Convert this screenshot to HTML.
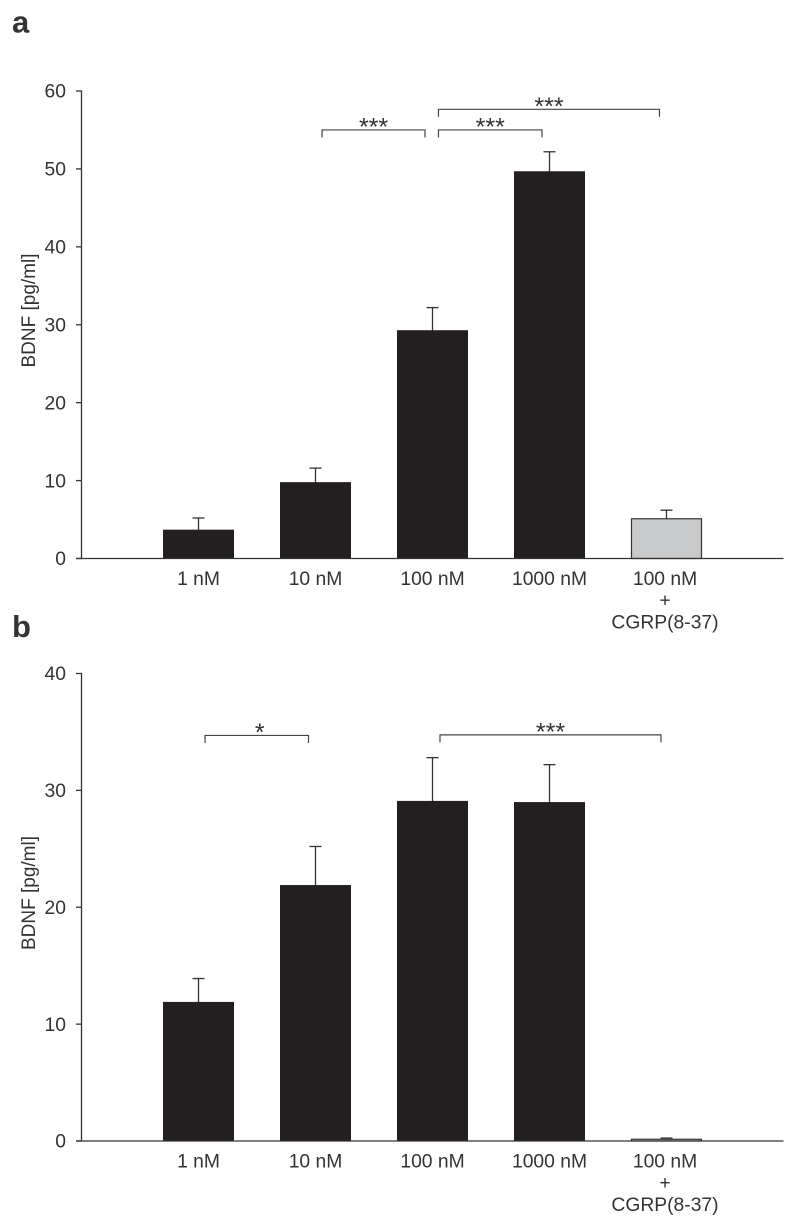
<!DOCTYPE html>
<html lang="en">
<head>
<meta charset="utf-8">
<title>BDNF release bar charts</title>
<style>
html,body{margin:0;padding:0;background:#fff;}
#stage{display:block;width:800px;height:1226px;}
text{font-family:"Liberation Sans",Arial,sans-serif;fill:#333;}
</style>
</head>
<body>
<svg id="stage" xmlns="http://www.w3.org/2000/svg" width="800" height="1226" viewBox="0 0 800 1226">
  <rect width="800" height="1226" fill="#fff"/>
  <g id="chart"></g>
</svg>
<script>
const categories = ['1 nM', '10 nM', '100 nM', '1000 nM', '100 nM'];
const lastCategoryExtra = ['+', 'CGRP(8-37)'];

const panelATicks = [0, 10, 20, 30, 40, 50, 60];
const panelAValues = [3.7, 9.8, 29.3, 49.7, 5.1];
const panelAErrorTops = [5.2, 11.6, 32.2, 52.2, 6.2];
const panelABracketFrom = [2.056, 3.051, 3.051];
const panelABracketTo = [2.936, 3.936, 4.94];
const panelABracketLevel = [55.0, 55.0, 57.65];
const panelABracketLabel = ['***', '***', '***'];

const panelBTicks = [0, 10, 20, 30, 40];
const panelBValues = [11.9, 21.9, 29.1, 29.0, 0.15];
const panelBErrorTops = [13.9, 25.2, 32.8, 32.2, 0.25];
const panelBBracketFrom = [1.056, 3.064];
const panelBBracketTo = [1.94, 4.953];
const panelBBracketLevel = [34.7, 34.75];
const panelBBracketLabel = ['*', '***'];

const NS = 'http://www.w3.org/2000/svg';
const root = document.getElementById('chart');
const INK = '#333333';
const BAR = '#231f20';
const GREY = '#c8c9cb';
const LABEL_SIZE = 19.3;

function mk(tag, parent, attrs) {
  const el = document.createElementNS(NS, tag);
  for (const k in attrs) el.setAttribute(k, attrs[k]);
  parent.appendChild(el);
  return el;
}
function line(parent, x1, y1, x2, y2, w, color) {
  return mk('line', parent, {x1: x1, y1: y1, x2: x2, y2: y2, stroke: color || INK, 'stroke-width': w});
}

function drawPanel(cfg) {
  const g = mk('g', root, {});
  
  

  const x0 = 81.5, slot = 117, barW = 71;
  const xScale = function (p) { return x0 + p * slot; };
  const yScale = function (v) { return cfg.yBase - v * (cfg.yBase - cfg.yTop) / cfg.yMax; };

  const letter = mk('text', g, {x: 12, y: cfg.letterY, 'font-size': 31, 'font-weight': 'bold', fill: '#231f20'});
  letter.textContent = cfg.id;
  
  

  const title = mk('text', g, {
    'font-size': 19, 'text-anchor': 'middle',
    transform: 'translate(35 ' + (cfg.yBase - 248) + ') rotate(-90)'
  });
  title.textContent = 'BDNF [pg/ml]';
  
  

  cfg.values.forEach(function (v, i) {
    const cx = xScale(i + 1);
    const yv = yScale(v);
    const yErr = yScale(cfg.errors[i]);
    const grey = i === 4;

    const stem = line(g, cx, yv + 1, cx, yErr, 1.3);
    
    
    const cap = line(g, cx - 6, yErr, cx + 6, yErr, 1.3);
    
    

    const bar = mk('rect', g, {
      x: cx - barW / 2 + (grey ? 0.5 : 0), y: yv,
      width: grey ? barW - 1 : barW, height: cfg.yBase - yv,
      fill: grey ? GREY : BAR
    });
    if (grey) { bar.setAttribute('stroke', INK); bar.setAttribute('stroke-width', 1.2); }
    
    

    const labelX = grey ? cx - 1.5 : cx;
    const lab = mk('text', g, {x: labelX, y: cfg.yBase + 26.5, 'font-size': LABEL_SIZE, 'text-anchor': 'middle'});
    lab.textContent = categories[i];
    
    
    if (grey) {
      lastCategoryExtra.forEach(function (t, k) {
        const ex = mk('text', g, {x: labelX, y: cfg.yBase + 48 + k * 21.8, 'font-size': LABEL_SIZE, 'text-anchor': 'middle'});
        ex.textContent = t;
        
        
      });
    }
  });

  const yAxis = line(g, x0, yScale(cfg.yMax) - 0.6, x0, cfg.yBase + 0.6, 1.3);
  
  
  const xAxis = line(g, 76, cfg.yBase, xScale(6), cfg.yBase, 1.3);
  
  

  cfg.ticks.forEach(function (t) {
    const y = yScale(t);
    const tick = line(g, 76, y, x0, y, 1.3);
    
    
    const tl = mk('text', g, {x: 66, y: y + 6.7, 'font-size': LABEL_SIZE, 'text-anchor': 'end'});
    tl.textContent = t;
    
    
  });

  cfg.brFrom.forEach(function (from, i) {
    const xa = xScale(from), xb = xScale(cfg.brTo[i]), y = yScale(cfg.brLevel[i]);
    const br = mk('path', g, {
      d: 'M' + xa + ' ' + (y + 7.5) + 'V' + y + 'H' + xb + 'V' + (y + 7.5),
      fill: 'none', stroke: '#444', 'stroke-width': 1.2
    });
    
    
    const single = cfg.brLabel[i].length === 1;
    const st = mk('text', g, {
      x: (xa + xb) / 2 + (single ? 3 : 0), y: y + 5.5,
      'font-size': 25, 'text-anchor': 'middle', fill: '#333'
    });
    st.textContent = cfg.brLabel[i];
    
    
  });
}

drawPanel({
  id: 'a', letterY: 32.5, yBase: 558.5, yTop: 91, yMax: 60,
  ticks: panelATicks, values: panelAValues, errors: panelAErrorTops,
  brFrom: panelABracketFrom, brTo: panelABracketTo, brLevel: panelABracketLevel, brLabel: panelABracketLabel
});
drawPanel({
  id: 'b', letterY: 637, yBase: 1141, yTop: 673.5, yMax: 40,
  ticks: panelBTicks, values: panelBValues, errors: panelBErrorTops,
  brFrom: panelBBracketFrom, brTo: panelBBracketTo, brLevel: panelBBracketLevel, brLabel: panelBBracketLabel
});
</script>
</body>
</html>
